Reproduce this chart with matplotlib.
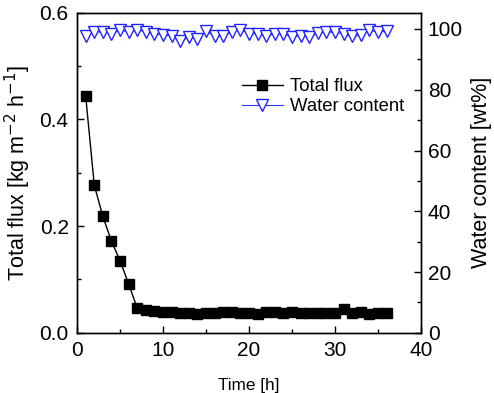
import matplotlib
matplotlib.use("Agg")
import matplotlib.pyplot as plt
from matplotlib.ticker import MultipleLocator

plt.rcParams['font.family'] = ['Liberation Sans', 'DejaVu Sans']

time_h = list(range(1, 37))
total_flux = [0.444, 0.277, 0.218, 0.172, 0.135, 0.092, 0.046, 0.043, 0.041, 0.040,
              0.039, 0.038, 0.038, 0.036, 0.038, 0.037, 0.040, 0.039, 0.037, 0.037,
              0.035, 0.039, 0.039, 0.038, 0.039, 0.037, 0.038, 0.037, 0.037, 0.038,
              0.044, 0.037, 0.039, 0.036, 0.038, 0.038]
water_content = [97.8, 99.0, 99.0, 98.4, 99.6, 99.0, 99.8, 99.0, 98.4, 98.0,
                 97.8, 95.9, 97.3, 96.7, 99.2, 97.8, 97.6, 99.0, 99.8, 98.5,
                 98.4, 97.6, 98.4, 98.4, 97.4, 97.8, 97.3, 98.7, 99.0, 98.9,
                 98.4, 97.6, 97.9, 99.6, 99.0, 99.2]

fig = plt.figure(figsize=(4.94, 3.93), dpi=100)
ax = fig.add_axes([0.156, 0.153, 0.696, 0.815])
ax2 = ax.twinx()

l1, = ax.plot(time_h, total_flux, color='black', lw=1.0, marker='s', markersize=6.5,
              markerfacecolor='black', markeredgecolor='black', label='Total flux', zorder=3)
l2, = ax2.plot(time_h, water_content, color='#3333ff', lw=0.8, marker='v', markersize=8,
               markerfacecolor='white', markeredgecolor='#2222ff', markeredgewidth=1.0,
               label='Water content')

ax.set_xlim(0, 40)
ax.set_ylim(0, 0.6)
ax2.set_ylim(0, 105.4)
ax.xaxis.set_major_locator(MultipleLocator(10))
ax.xaxis.set_minor_locator(MultipleLocator(5))
ax.yaxis.set_major_locator(MultipleLocator(0.2))
ax.yaxis.set_minor_locator(MultipleLocator(0.1))
ax2.yaxis.set_major_locator(MultipleLocator(20))
ax2.yaxis.set_minor_locator(MultipleLocator(10))
ax.set_yticks([0.0, 0.2, 0.4, 0.6])
ax.set_yticklabels(['0.0', '0.2', '0.4', '0.6'])

for a in (ax, ax2):
    a.tick_params(which='major', direction='in', length=5, width=1, labelsize=15)
    a.tick_params(which='minor', direction='in', length=3, width=1)
    for s in a.spines.values():
        s.set_linewidth(1.0)
ax.tick_params(top=False, right=False, which='both')
ax.tick_params(axis='y', pad=6)
ax.tick_params(axis='x', pad=6)
ax2.tick_params(axis='y', pad=5)

ax.set_xlabel('Time [h]', fontsize=12.3, labelpad=13)
ax.set_ylabel('Total flux [kg m$^{-2}$ h$^{-1}$]', fontsize=15.5, labelpad=5)
ax2.set_ylabel('Water content [wt%]', fontsize=15.5, labelpad=6)

ax2.legend([l1, l2], ['Total flux', 'Water content'], loc='upper left',
           bbox_to_anchor=(0.48, 0.795), frameon=False, fontsize=13.3,
           borderpad=0, borderaxespad=0,
           handlelength=2.2, handletextpad=0.4, labelspacing=0.15)

fig.savefig('out.png', dpi=100)
